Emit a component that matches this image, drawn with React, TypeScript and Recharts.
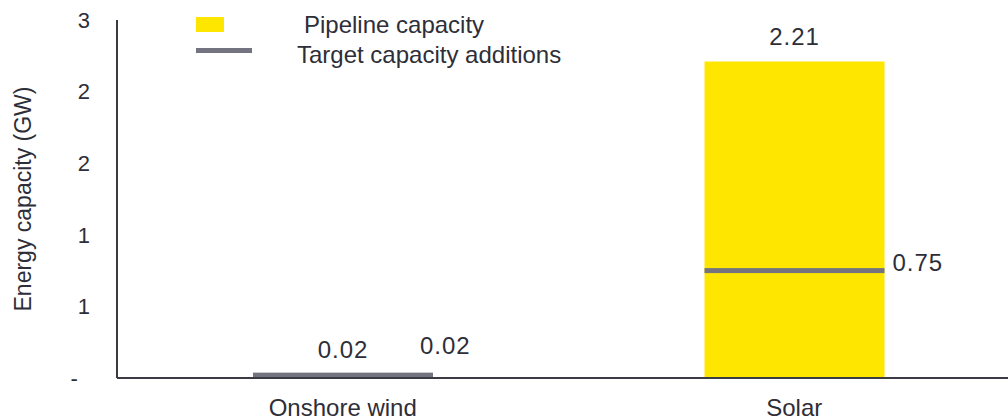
import React from "react"
import { ComposedChart, Bar, XAxis, YAxis, LabelList } from "recharts"

const categories = ["Onshore wind", "Solar"]
const pipelineCapacity = [0.02, 2.21]
const targetAdditions = [0.02, 0.75]
const yTicks = [0, 0.5, 1, 1.5, 2, 2.5]

const YELLOW = "#FFE600"
const GREY = "#747480"
const TEXT = "#2e2e38"
const FONT = "'Liberation Sans', Arial, sans-serif"

const data = categories.map((name, i) => ({
  name,
  pipeline: pipelineCapacity[i],
  target: targetAdditions[i],
}))

// target marker: a thick horizontal line at the value
const TargetLine = (props: any) => {
  const { x, y, width } = props
  return <rect x={x} y={y - 2.5} width={width} height={5} fill={GREY} />
}

// label to the right of the target line; the tiny wind value is lifted clear of the axis
const TargetLabel = (props: any) => {
  const { x, y, width, value, index } = props
  const dy = index === 0 ? -30 : -8
  const dx = index === 0 ? -13 : 8
  return (
    <text
      x={x + width + dx}
      y={y + dy}
      dominantBaseline="central"
      fill={TEXT}
      fontSize={24}
      letterSpacing={1}
      fontFamily={FONT}
    >
      {value.toFixed(2)}
    </text>
  )
}

function Legend() {
  const txt: React.CSSProperties = {
    position: "absolute",
    fontFamily: FONT,
    fontSize: 24,
    color: TEXT,
    lineHeight: "24px",
    whiteSpace: "nowrap",
  }
  return (
    <>
      <div style={{ position: "absolute", left: 196, top: 17, width: 28, height: 15, background: YELLOW }} />
      <div style={{ ...txt, left: 304, top: 13 }}>Pipeline capacity</div>
      <div style={{ position: "absolute", left: 196, top: 48, width: 56, height: 5, background: GREY }} />
      <div style={{ ...txt, left: 297, top: 43 }}>Target capacity additions</div>
    </>
  )
}

export default function App() {
  return (
    <div
      style={{
        position: "absolute",
        left: 0,
        top: 0,
        width: 1008,
        height: 420,
        overflow: "hidden",
        background: "#fff",
      }}
    >
      <ComposedChart
        width={1020}
        height={420}
        data={data}
        margin={{ top: 20, right: 0, bottom: 0, left: 0 }}
      >
        <XAxis
          dataKey="name"
          xAxisId="main"
          height={42}
          tickLine={false}
          axisLine={{ stroke: "#3a3a44", strokeWidth: 2 }}
          tick={{ fill: TEXT, fontSize: 24, fontFamily: FONT }}
          tickMargin={15}
        />
        <XAxis dataKey="name" xAxisId="target" hide />
        <YAxis
          width={117}
          domain={[0, 2.5]}
          ticks={yTicks}
          tickLine={false}
          tickSize={0}
          tickMargin={27}
          axisLine={{ stroke: "#3a3a44", strokeWidth: 2 }}
          tick={{ fill: TEXT, fontSize: 22, fontFamily: FONT }}
          tickFormatter={(v: number) => (v === 0 ? "-\u00a0\u00a0" : String(Math.round(v)))}
          label={{
            value: "Energy capacity (GW)",
            angle: -90,
            position: "insideLeft",
            offset: 23,
            style: { textAnchor: "middle", fill: TEXT, fontSize: 23, fontFamily: FONT },
          }}
        />
        <Bar
          dataKey="pipeline"
          xAxisId="main"
          fill={YELLOW}
          barSize={180}
          isAnimationActive={false}
        >
          <LabelList
            dataKey="pipeline"
            position="top"
            offset={17}
            formatter={(v: number) => v.toFixed(2)}
            style={{ fill: TEXT, fontSize: 24, fontFamily: FONT, letterSpacing: 1 }}
          />
        </Bar>
        <Bar
          dataKey="target"
          xAxisId="target"
          fill={GREY}
          barSize={180}
          shape={TargetLine}
          isAnimationActive={false}
        >
          <LabelList dataKey="target" content={TargetLabel} />
        </Bar>
      </ComposedChart>
      <Legend />
    </div>
  )
}
